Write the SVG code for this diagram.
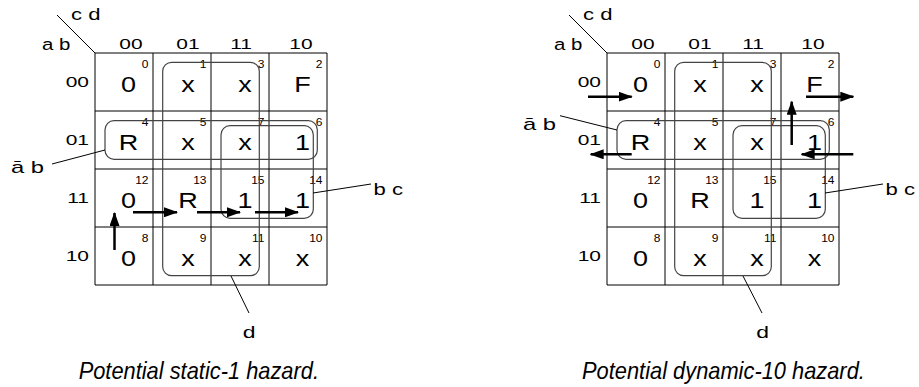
<svg xmlns="http://www.w3.org/2000/svg" width="919" height="387" viewBox="0 0 919 387">
<defs>
<style>
text{font-family:"Liberation Sans",Arial,Helvetica,sans-serif;fill:#000}
.grid{fill:none;stroke:#000;stroke-width:1}
.v{font-size:22.5px;text-anchor:middle}
.i{font-size:10px;text-anchor:end}
.h{font-size:15.5px;text-anchor:middle}
.r{font-size:15.5px;text-anchor:end}
.lab{font-size:17px}
.cap{font-size:23px;font-style:italic}
.loop{fill:none;stroke:#444;stroke-width:1.2}
.lead{fill:none;stroke:#000;stroke-width:1}
.arr{fill:none;stroke:#000;stroke-width:2.5;marker-end:url(#ah)}
</style>
<marker id="ah" markerUnits="userSpaceOnUse" markerWidth="14" markerHeight="10" refX="13" refY="5" orient="auto"><path d="M0,0 L14,5 L0,10 z" fill="#000"/></marker>
</defs>
<rect width="919" height="387" fill="#fff"/>

<g id="map-left">
<path class="grid" d="M95,53H327V285H95Z M153,53V285 M211,53V285 M269,53V285 M95,111H327 M95,169H327 M95,227H327 M57,15L95,53"/>
<text class="lab" transform="translate(71,20) scale(1.3,1)">c d</text>
<text class="lab" transform="translate(42,50) scale(1.2,1)">a b</text>
<text class="h" transform="translate(131,49) scale(1.35,1)">00</text>
<text class="h" transform="translate(188,49) scale(1.35,1)">01</text>
<text class="h" transform="translate(241,49) scale(1.35,1)">11</text>
<text class="h" transform="translate(301,49) scale(1.35,1)">10</text>
<text class="r" transform="translate(89,87) scale(1.35,1)">00</text>
<text class="r" transform="translate(89,145) scale(1.35,1)">01</text>
<text class="r" transform="translate(89,203) scale(1.35,1)">11</text>
<text class="r" transform="translate(89,261) scale(1.35,1)">10</text>
<text class="v" transform="translate(128.5,92) scale(1.2,1)">0</text>
<text class="v" transform="translate(188,92) scale(1.2,1)">x</text>
<text class="v" transform="translate(245,92) scale(1.2,1)">x</text>
<text class="v" transform="translate(302.5,92) scale(1.2,1)">F</text>
<text class="v" transform="translate(128.5,150) scale(1.2,1)">R</text>
<text class="v" transform="translate(188,150) scale(1.2,1)">x</text>
<text class="v" transform="translate(245,150) scale(1.2,1)">x</text>
<text class="v" transform="translate(302.5,150) scale(1.2,1)">1</text>
<text class="v" transform="translate(128.5,208) scale(1.2,1)">0</text>
<text class="v" transform="translate(188,208) scale(1.2,1)">R</text>
<text class="v" transform="translate(245,208) scale(1.2,1)">1</text>
<text class="v" transform="translate(302.5,208) scale(1.2,1)">1</text>
<text class="v" transform="translate(128.5,266) scale(1.2,1)">0</text>
<text class="v" transform="translate(188,266) scale(1.2,1)">x</text>
<text class="v" transform="translate(245,266) scale(1.2,1)">x</text>
<text class="v" transform="translate(302.5,266) scale(1.2,1)">x</text>
<text class="i" transform="translate(148.5,68) scale(1.2,1)">0</text>
<text class="i" transform="translate(206.5,68) scale(1.2,1)">1</text>
<text class="i" transform="translate(264.5,68) scale(1.2,1)">3</text>
<text class="i" transform="translate(322.5,68) scale(1.2,1)">2</text>
<text class="i" transform="translate(148.5,126) scale(1.2,1)">4</text>
<text class="i" transform="translate(206.5,126) scale(1.2,1)">5</text>
<text class="i" transform="translate(264.5,126) scale(1.2,1)">7</text>
<text class="i" transform="translate(322.5,126) scale(1.2,1)">6</text>
<text class="i" transform="translate(148.5,184) scale(1.2,1)">12</text>
<text class="i" transform="translate(206.5,184) scale(1.2,1)">13</text>
<text class="i" transform="translate(264.5,184) scale(1.2,1)">15</text>
<text class="i" transform="translate(322.5,184) scale(1.2,1)">14</text>
<text class="i" transform="translate(148.5,242) scale(1.2,1)">8</text>
<text class="i" transform="translate(206.5,242) scale(1.2,1)">9</text>
<text class="i" transform="translate(264.5,242) scale(1.2,1)">11</text>
<text class="i" transform="translate(322.5,242) scale(1.2,1)">10</text>
<rect class="loop" x="162.7" y="62.3" width="96.6" height="213.4" rx="9"/>
<rect class="loop" x="105" y="120.7" width="212.3" height="38.6" rx="9"/>
<rect class="loop" x="221" y="125.7" width="92.3" height="92.6" rx="9"/>
<text class="lab" transform="translate(11,173) scale(1.4,1)">ā b</text>
<text class="lab" transform="translate(373.5,195) scale(1.3,1)">b c</text>
<text class="lab" text-anchor="middle" transform="translate(249,338) scale(1.35,1)">d</text>
<text class="cap" text-anchor="end" transform="translate(319,379) scale(0.95,1)">Potential static-1 hazard.</text>
</g>

<g id="map-right">
<path class="grid" d="M607,53H839V285H607Z M665,53V285 M723,53V285 M781,53V285 M607,111H839 M607,169H839 M607,227H839 M569,15L607,53"/>
<text class="lab" transform="translate(583,20) scale(1.3,1)">c d</text>
<text class="lab" transform="translate(554,50) scale(1.2,1)">a b</text>
<text class="h" transform="translate(643,49) scale(1.35,1)">00</text>
<text class="h" transform="translate(700,49) scale(1.35,1)">01</text>
<text class="h" transform="translate(753,49) scale(1.35,1)">11</text>
<text class="h" transform="translate(813,49) scale(1.35,1)">10</text>
<text class="r" transform="translate(601,87) scale(1.35,1)">00</text>
<text class="r" transform="translate(601,145) scale(1.35,1)">01</text>
<text class="r" transform="translate(601,203) scale(1.35,1)">11</text>
<text class="r" transform="translate(601,261) scale(1.35,1)">10</text>
<text class="v" transform="translate(640.5,92) scale(1.2,1)">0</text>
<text class="v" transform="translate(700,92) scale(1.2,1)">x</text>
<text class="v" transform="translate(757,92) scale(1.2,1)">x</text>
<text class="v" transform="translate(814.5,92) scale(1.2,1)">F</text>
<text class="v" transform="translate(640.5,150) scale(1.2,1)">R</text>
<text class="v" transform="translate(700,150) scale(1.2,1)">x</text>
<text class="v" transform="translate(757,150) scale(1.2,1)">x</text>
<text class="v" transform="translate(814.5,150) scale(1.2,1)">1</text>
<text class="v" transform="translate(640.5,208) scale(1.2,1)">0</text>
<text class="v" transform="translate(700,208) scale(1.2,1)">R</text>
<text class="v" transform="translate(757,208) scale(1.2,1)">1</text>
<text class="v" transform="translate(814.5,208) scale(1.2,1)">1</text>
<text class="v" transform="translate(640.5,266) scale(1.2,1)">0</text>
<text class="v" transform="translate(700,266) scale(1.2,1)">x</text>
<text class="v" transform="translate(757,266) scale(1.2,1)">x</text>
<text class="v" transform="translate(814.5,266) scale(1.2,1)">x</text>
<text class="i" transform="translate(660.5,68) scale(1.2,1)">0</text>
<text class="i" transform="translate(718.5,68) scale(1.2,1)">1</text>
<text class="i" transform="translate(776.5,68) scale(1.2,1)">3</text>
<text class="i" transform="translate(834.5,68) scale(1.2,1)">2</text>
<text class="i" transform="translate(660.5,126) scale(1.2,1)">4</text>
<text class="i" transform="translate(718.5,126) scale(1.2,1)">5</text>
<text class="i" transform="translate(776.5,126) scale(1.2,1)">7</text>
<text class="i" transform="translate(834.5,126) scale(1.2,1)">6</text>
<text class="i" transform="translate(660.5,184) scale(1.2,1)">12</text>
<text class="i" transform="translate(718.5,184) scale(1.2,1)">13</text>
<text class="i" transform="translate(776.5,184) scale(1.2,1)">15</text>
<text class="i" transform="translate(834.5,184) scale(1.2,1)">14</text>
<text class="i" transform="translate(660.5,242) scale(1.2,1)">8</text>
<text class="i" transform="translate(718.5,242) scale(1.2,1)">9</text>
<text class="i" transform="translate(776.5,242) scale(1.2,1)">11</text>
<text class="i" transform="translate(834.5,242) scale(1.2,1)">10</text>
<rect class="loop" x="674.7" y="62.3" width="96.6" height="213.4" rx="9"/>
<rect class="loop" x="617" y="120.7" width="212.3" height="38.6" rx="9"/>
<rect class="loop" x="733" y="125.7" width="92.3" height="92.6" rx="9"/>
<text class="lab" transform="translate(523,130) scale(1.4,1)">ā b</text>
<text class="lab" transform="translate(885.5,195) scale(1.3,1)">b c</text>
<text class="lab" text-anchor="middle" transform="translate(762.5,338) scale(1.35,1)">d</text>
<text class="cap" transform="translate(582,379) scale(0.95,1)">Potential dynamic-10 hazard.</text>
</g>

<g id="connectors">
<path class="lead" d="M52,164L105,150 M313,193L371,184 M231,276L249,313"/>
<path class="lead" d="M560,115.7L617,130 M825,193L883,184 M743,276L762,313"/>
<path class="arr" d="M114.5,250V213"/>
<path class="arr" d="M133,212.3H177"/>
<path class="arr" d="M197,212.3H240"/>
<path class="arr" d="M255,212.3H298"/>
<path class="arr" d="M588,96.7H631.7"/>
<path class="arr" d="M806,96.7H853.3"/>
<path class="arr" d="M791.7,145V101.7"/>
<path class="arr" d="M631.7,154.3H590.7"/>
<path class="arr" d="M853.3,154.3H801.7"/>
</g>
</svg>
